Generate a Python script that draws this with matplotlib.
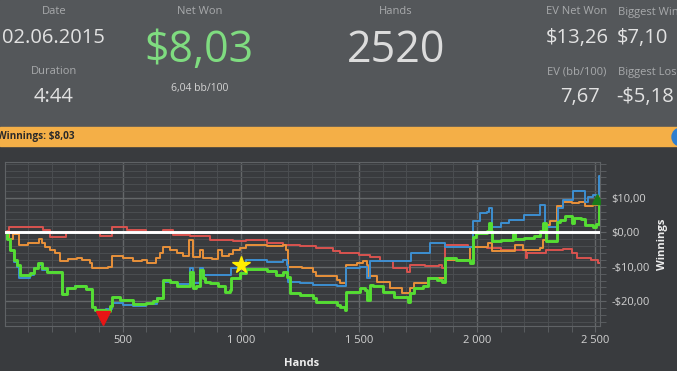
import numpy as np
import matplotlib
matplotlib.use("Agg")
import matplotlib.pyplot as plt
from matplotlib.patches import Rectangle, Ellipse

W, H = 677, 371

# header values
header_labels = ["Date", "Duration", "Net Won", "Hands", "EV Net Won", "EV (bb/100)", "Biggest Win", "Biggest Loss"]
date_txt = "02.06.2015"
duration_txt = "4:44"
net_won_txt = "$8,03"
bb100_txt = "6,04 bb/100"
hands_txt = "2520"
ev_net_txt = "$13,26"
ev_bb_txt = "7,67"
big_win_txt = "$7,10"
big_loss_txt = "-$5,18"
bar_txt = "Winnings: $8,03"

# series: (hand where step starts, winnings $)
green_h = [0, 12, 25, 40, 55, 65, 110, 125, 140, 160, 180, 242, 265, 300, 345, 369, 383, 430, 445, 453,
           488, 545, 600, 630, 644, 672, 700, 728, 785, 796, 810, 827, 838, 848, 869, 905, 933, 955, 960,
           996, 1024, 1067, 1110, 1151, 1180, 1195, 1208, 1250, 1306, 1320, 1405, 1419, 1440, 1447, 1503,
           1525, 1532, 1546, 1560, 1600, 1650, 1706, 1714, 1735, 1770, 1791, 1830, 1850, 1862, 1910, 1968,
           1982, 1995, 2040, 2050, 2058, 2064, 2100, 2150, 2160, 2200, 2240, 2265, 2280, 2292, 2338, 2350,
           2370, 2400, 2410, 2440, 2455, 2490, 2505, 2517, 2520]
green_v = [0, -2, -5, -8, -9.4, -12.3, -11.8, -10.4, -8.9, -10.4, -11.4, -17.9, -16.2, -15.5, -16.5, -21.6,
           -22.5, -22.8, -21.5, -18.7, -19.6, -20.8, -20.4, -20.0, -19.1, -13.8, -14.3, -15.7, -11.4, -16.2,
           -15.7, -11.0, -13.3, -14.3, -14.8, -15.7, -17.2, -16.8, -13.3, -11.8, -10.7, -10.5, -11.3, -12.3,
           -11.4, -13.0, -17.7, -18.1, -19.1, -20.1, -21.1, -21.6, -22.5, -17.2, -16.2, -16.7, -19.6, -15.2,
           -15.7, -17.2, -18.7, -20.1, -17.7, -16.2, -15.7, -13.3, -13.8, -14.3, -7.5, -8.1, -8.9, -1.2,
           -0.2, 0.3, 2.7, 0.5, -2.6, -2.3, 0.0, -1.8, -1.5, -1.0, 0.3, 2.7, -2.4, 3.0, 3.7, 4.7, 2.7, 4.3,
           4.0, 2.2, 1.7, 2.5, 8.03, 8.03]

blue_h = [0, 12, 25, 40, 55, 62, 110, 125, 140, 160, 180, 242, 265, 300, 345, 369, 383, 430, 453, 500,
          545, 600, 644, 672, 728, 785, 796, 827, 838, 900, 960, 996, 1024, 1110, 1180, 1195, 1200, 1250,
          1306, 1405, 1447, 1503, 1532, 1546, 1721, 1799, 1862, 1982, 2011, 2040, 2050, 2064, 2100, 2135,
          2200, 2265, 2286, 2343, 2365, 2407, 2455, 2470, 2490, 2516, 2520]
blue_v = [0, -2, -5, -8.5, -10, -13.3, -12.5, -10.4, -9.4, -10.9, -11.6, -17.9, -16.2, -15.5, -16.5, -21.6,
          -22.5, -22.3, -20.5, -21.0, -21.3, -20.9, -19.1, -14.3, -15.0, -10.4, -14.8, -10.4, -12.3, -12.3,
          -10.4, -9.4, -8.0, -8.5, -8.0, -9.5, -14.3, -14.8, -15.2, -15.7, -10.4, -10.0, -13.3, -8.4, -6.0,
          -3.1, -4.1, 3.2, 5.7, 6.0, 7.1, 1.7, 2.7, 3.7, 5.2, 8.1, 1.7, 7.1, 9.5, 12.0, 9.0, 10.2, 11.0,
          16.3, 16.3]

orange_h = [0, 20, 35, 60, 100, 144, 160, 171, 192, 215, 235, 270, 305, 330, 362, 369, 440, 453, 500, 545,
            580, 601, 640, 658, 672, 700, 730, 757, 782, 799, 827, 841, 880, 904, 920, 950, 968, 996, 1024,
            1110, 1150, 1180, 1192, 1200, 1260, 1306, 1320, 1405, 1419, 1447, 1490, 1518, 1532, 1539, 1575,
            1632, 1681, 1714, 1735, 1791, 1862, 1968, 2046, 2062, 2160, 2194, 2265, 2280, 2293, 2310, 2340,
            2365, 2400, 2430, 2455, 2490, 2516, 2520]
orange_v = [0, -2, -0.5, -3.6, -3.2, -1.9, -3.0, -4.1, -5.0, -6.0, -8.4, -7.8, -7.5, -8.0, -8.9, -10.4,
            -10.0, -6.8, -7.5, -8.4, -8.0, -8.9, -7.5, -6.0, -4.1, -5.0, -6.0, -6.8, -2.1, -7.0, -5.0, -7.5,
            -7.8, -5.0, -6.8, -6.2, -5.0, -4.6, -3.6, -3.8, -4.0, -3.6, -5.0, -9.9, -10.4, -11.4, -12.8,
            -13.8, -14.8, -9.4, -9.0, -8.4, -9.4, -12.8, -14.3, -16.2, -17.7, -16.2, -14.8, -13.3, -8.0,
            -4.1, -3.1, -5.5, -3.6, -5.0, -4.5, -2.1, 2.2, 3.2, 7.6, 9.0, 8.6, 9.0, 7.6, 8.0, 13.4, 13.4]

red_h = [0, 10, 20, 100, 164, 192, 262, 320, 404, 453, 517, 600, 672, 714, 785, 869, 968, 1024, 1109,
         1180, 1250, 1320, 1391, 1419, 1500, 1546, 1590, 1646, 1702, 1715, 1780, 1840, 1850, 1862, 1960,
         2043, 2100, 2208, 2212, 2290, 2365, 2400, 2424, 2480, 2510, 2520]
red_v = [0, 0.3, 1.5, 1.7, 0.8, -1.2, 0.0, -0.2, -1.0, 1.6, 0.8, 0.2, 0.6, -0.7, -1.0, -2.3, -2.6, -2.1,
         -3.1, -3.6, -3.8, -4.5, -5.5, -6.0, -6.5, -7.0, -8.4, -10.4, -11.4, -9.4, -9.8, -9.4, -10.4, -3.6,
         -4.1, -4.5, -5.0, -7.5, -6.0, -5.0, -4.8, -6.0, -7.5, -8.0, -8.9, -8.9]

low_point = (415, -25.0)
star_point = (999, -9.4)
end_point = (2508, 9.7)

x_ticks = [500, 1000, 1500, 2000, 2500]
x_labels = ["500", "1 000", "1 500", "2 000", "2 500"]
y_ticks = [-20, -10, 0, 10]
y_labels = ["-$20,00", "-$10,00", "$0,00", "$10,00"]

plt.rcParams['font.family'] = ['Open Sans', 'DejaVu Sans']


def fx(x):
    return x / W


def fy(y):
    return 1 - y / H


fig = plt.figure(figsize=(W / 100, H / 100), dpi=100, facecolor='#393b3e')

# header panel and orange bar
fig.patches.append(Rectangle((0, fy(127)), 1, 127 / H, transform=fig.transFigure,
                             color='#54575a', zorder=0))
fig.patches.append(Rectangle((0, fy(146)), 1, 19 / H, transform=fig.transFigure,
                             color='#f4af47', zorder=0))
fig.patches.append(Ellipse((fx(681), fy(137)), 18 / W, 18 / H, transform=fig.transFigure,
                           color='#2f7fd0', zorder=1))

lab = dict(color='#a8aaac', fontsize=8, ha='center', va='center')
val = dict(color='#e2e2e2', fontsize=14.5, ha='center', va='center')

fig.text(fx(54), fy(12), header_labels[0], **lab)
fig.text(fx(53), fy(38), date_txt, **val)
fig.text(fx(54), fy(71), header_labels[1], **lab)
fig.text(fx(54), fy(97), duration_txt, **val)
fig.text(fx(200), fy(12), header_labels[2], **lab)
fig.text(fx(199), fy(51), net_won_txt, color='#7fdc80', fontsize=31, ha='center', va='center')
fig.text(fx(200), fy(88), bb100_txt, color='#d4d4d4', fontsize=7.5, ha='center', va='center')
fig.text(fx(396), fy(12), header_labels[3], **lab)
fig.text(fx(396), fy(51), hands_txt, color='#dcdcdc', fontsize=31, ha='center', va='center')
fig.text(fx(577), fy(12), header_labels[4], **lab)
fig.text(fx(577), fy(38), ev_net_txt, **val)
fig.text(fx(577), fy(72), header_labels[5], **lab)
fig.text(fx(580), fy(97), ev_bb_txt, **val)
fig.text(fx(618), fy(12), header_labels[6], color='#a8aaac', fontsize=8, ha='left', va='center')
fig.text(fx(617), fy(38), big_win_txt, color='#e2e2e2', fontsize=14.5, ha='left', va='center')
fig.text(fx(618), fy(72), header_labels[7], color='#a8aaac', fontsize=8, ha='left', va='center')
fig.text(fx(616), fy(97), big_loss_txt, color='#e2e2e2', fontsize=14.5, ha='left', va='center')

fig.text(fx(-3), fy(137), bar_txt, color='#2a2a2a', fontsize=7.2, fontweight='bold',
         ha='left', va='center')

# chart
ax = fig.add_axes([fx(4.5), fy(326), (600 - 4.5) / W, (326 - 162.3) / H])
ax.set_facecolor('#393b3e')
ax.set_xlim(0, 2520)
ax.set_ylim(-27.2, 20.4)

ax.set_xticks(x_ticks)
ax.set_xticklabels(x_labels)
ax.set_xticks(np.arange(100, 2520, 100), minor=True)
ax.set_yticks(y_ticks)
ax.set_yticklabels(y_labels)
ax.set_yticks(np.arange(-26, 21, 2), minor=True)
ax.yaxis.tick_right()

ax.grid(which='major', color='#646769', lw=1.0)
ax.grid(which='minor', color='#4a4d50', lw=0.8)
ax.set_axisbelow(True)
for s in ax.spines.values():
    s.set_color('#5f6265')
ax.tick_params(axis='both', which='both', direction='out', color='#5f6265',
               labelcolor='#d2d2d2', labelsize=8)
ax.tick_params(axis='x', which='both', length=4.3, pad=2.5)
ax.tick_params(axis='y', which='both', length=4, pad=4)

ax.step(red_h, red_v, where='post', color='#d9534f', lw=1.4, zorder=3)
ax.step(orange_h, orange_v, where='post', color='#e8913a', lw=1.4, zorder=4)
ax.step(blue_h, blue_v, where='post', color='#3d8fd1', lw=1.4, zorder=5)
ax.step(green_h, green_v, where='post', color='#55dd33', lw=2.1, zorder=6)
ax.axhline(0, color='white', lw=2.1, zorder=7)

ax.plot(*low_point, marker='v', color='#e81515', markersize=10, clip_on=False, zorder=8)
ax.plot(*star_point, marker='*', color='#ffee00', markersize=13, zorder=8)
ax.plot(*end_point, marker='^', color='#1a7a1a', markersize=7, zorder=8)

fig.text(fx(302), fy(363), "Hands", color='#eeeeee', fontsize=8, fontweight='bold',
         ha='center', va='center')
fig.text(fx(663), fy(244), "Winnings", color='#eeeeee', fontsize=8, fontweight='bold',
         ha='center', va='center', rotation=90)

fig.savefig("out.png", dpi=100, facecolor=fig.get_facecolor())
